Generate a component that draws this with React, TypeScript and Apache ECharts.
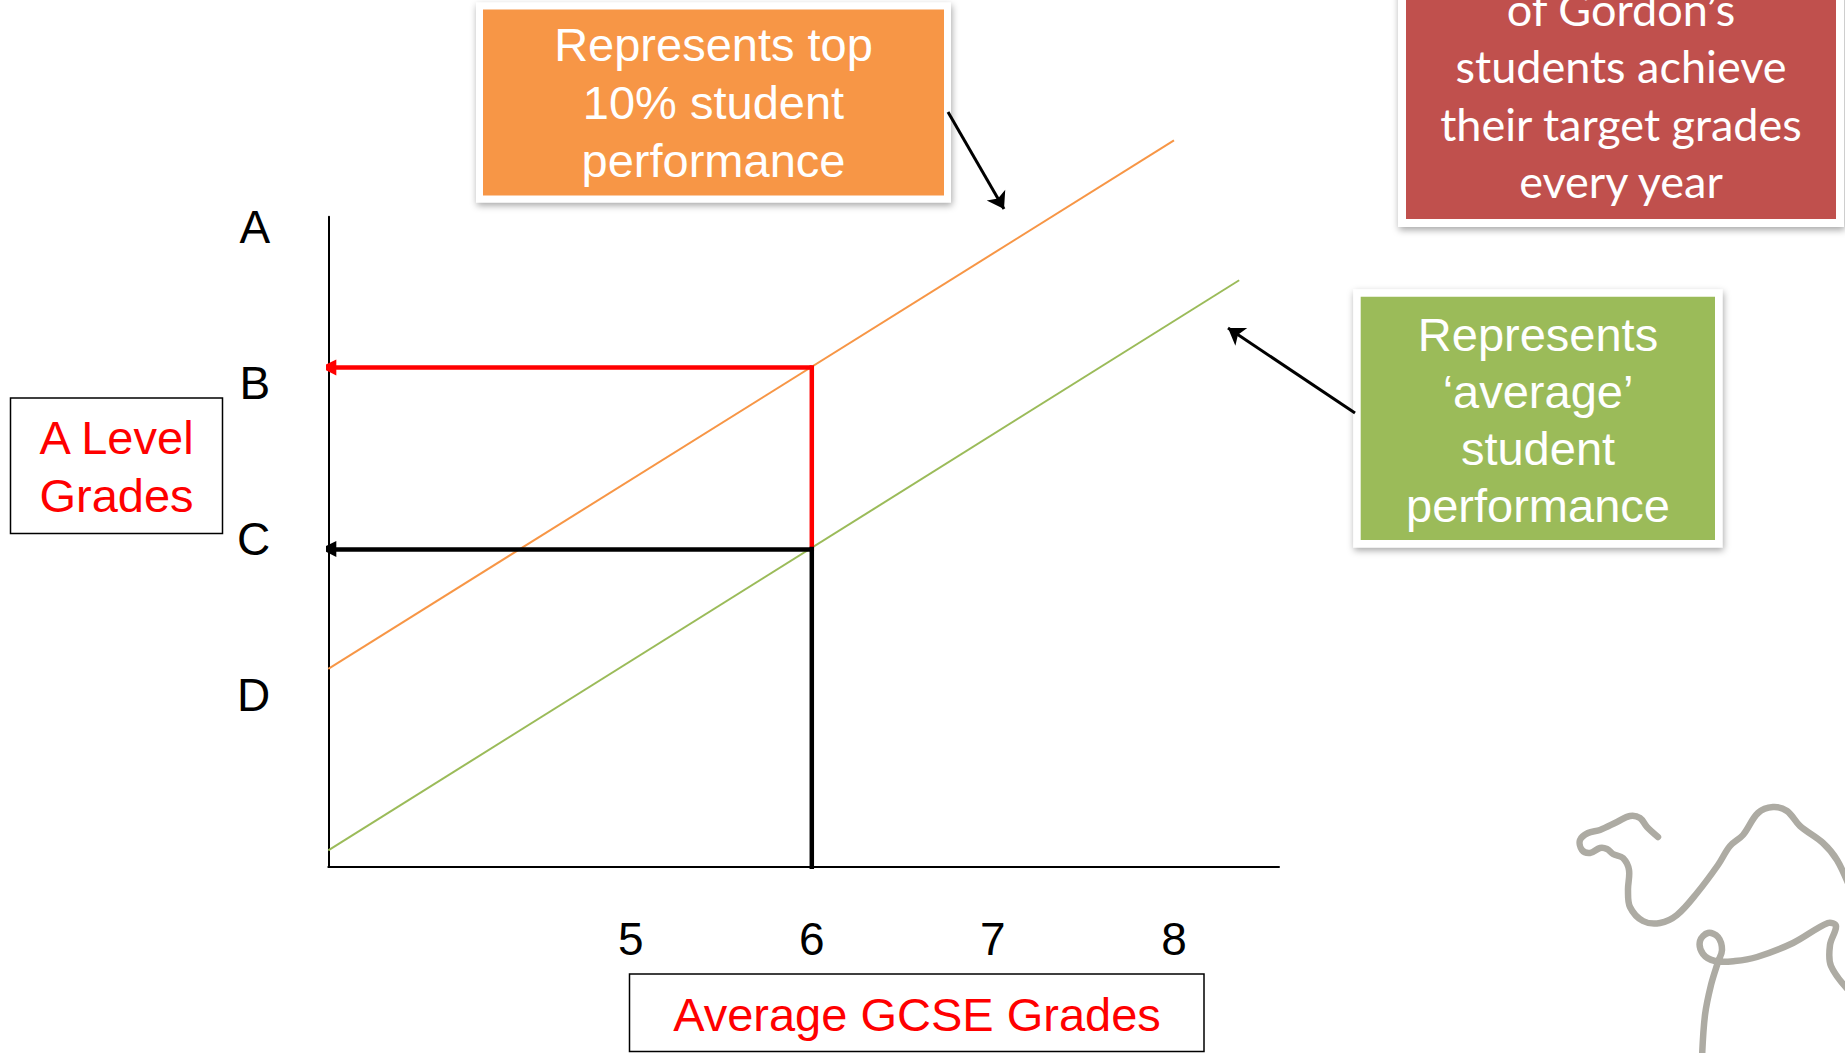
import React, { useEffect, useRef } from 'react';
import * as echarts from 'echarts';

// ---- data ----
const gcseTicks = [5, 6, 7, 8];
const aLevelGrades = ['D', 'C', 'B', 'A'];
const gcseRange = [3.33, 8.58];
const gradeRange = [0.25, 3.83]; // numeric grade scale: D=1, C=2, B=3, A=4
const top10Line = [[3.33, 1.34], [8.0, 4.25]];
const averageLine = [[3.33, 0.34], [8.36, 3.48]];
const studentGcse = 6;
const averageGrade = 2; // C
const top10Grade = 3; // B

const ARIAL = '"Liberation Sans", Arial, sans-serif';
const CALIBRI = 'Lato, "Open Sans", sans-serif';

function box(x: number, y: number, w: number, h: number, fill: string, frame: number) {
  return [
    {
      type: 'rect',
      shape: { x: x - frame, y: y - frame, width: w + 2 * frame, height: h + 2 * frame },
      style: {
        fill: '#ffffff',
        shadowBlur: 7,
        shadowOffsetX: 1,
        shadowOffsetY: 3,
        shadowColor: 'rgba(0,0,0,0.35)',
      },
    },
    { type: 'rect', shape: { x, y, width: w, height: h }, style: { fill } },
  ];
}

function label(text: string, x: number, y: number, font: string, fill: string, lineHeight: number) {
  return {
    type: 'text',
    x,
    y,
    style: {
      text,
      font,
      fill,
      align: 'center',
      verticalAlign: 'middle',
      textAlign: 'center',
      textVerticalAlign: 'middle',
      lineHeight,
    },
  };
}

const camelHeadNeck = [
  [1658, 837], [1647, 827], [1640, 818], [1630, 816], [1617, 822], [1600, 830], [1588, 833],
  [1580, 840], [1582, 850], [1590, 853], [1600, 848], [1607, 849], [1613, 854], [1623, 858],
  [1629, 870], [1628, 890], [1630, 907], [1643, 921], [1660, 923], [1677, 915], [1697, 893],
  [1718, 865], [1730, 846], [1743, 835], [1758, 813], [1773, 807], [1787, 811], [1800, 826],
  [1823, 843], [1837, 860], [1850, 888],
];
const camelLegBelly = [
  [1702, 1058], [1705, 1015], [1711, 985], [1718, 962], [1722, 950], [1718, 937], [1708, 933],
  [1700, 941], [1703, 954], [1715, 961], [1735, 961], [1757, 957], [1793, 943], [1828, 923],
  [1836, 926], [1830, 945], [1831, 966], [1850, 992],
];

export default function App() {
  const ref = useRef<HTMLDivElement>(null);

  useEffect(() => {
    if (!ref.current) return;
    const chart = echarts.init(ref.current, undefined, { renderer: 'svg' });

    const option: any = {
      animation: false,
      backgroundColor: '#ffffff',
      grid: [
        { left: 328.3, top: 216.7, width: 950.7, height: 650 },
        { left: 328.3, top: 226.7, width: 100, height: 468.3 },
      ],
      xAxis: [
        {
          gridIndex: 0,
          type: 'value',
          min: gcseRange[0],
          max: gcseRange[1],
          axisLine: { show: true, onZero: false, lineStyle: { color: '#000000', width: 2 } },
          axisTick: { show: false },
          splitLine: { show: false },
          axisLabel: {
            customValues: gcseTicks,
            color: '#000000',
            fontSize: 46,
            fontFamily: ARIAL,
            margin: 49,
          },
        },
        { gridIndex: 1, type: 'value', show: false },
      ],
      yAxis: [
        {
          gridIndex: 0,
          type: 'value',
          min: gradeRange[0],
          max: gradeRange[1],
          axisLine: { show: true, onZero: false, lineStyle: { color: '#000000', width: 2 } },
          axisTick: { show: false },
          splitLine: { show: false },
          axisLabel: { show: false },
        },
        {
          gridIndex: 1,
          type: 'category',
          data: aLevelGrades,
          boundaryGap: false,
          axisLine: { show: false },
          axisTick: { show: false },
          splitLine: { show: false },
          axisLabel: { color: '#000000', fontSize: 46, fontFamily: ARIAL, margin: 58 },
        },
      ],
      series: [
        {
          type: 'line',
          name: 'Top 10%',
          data: top10Line,
          showSymbol: false,
          symbol: 'none',
          clip: false,
          z: 2,
          lineStyle: { color: '#F79646', width: 2 },
          markLine: {
            silent: true,
            symbol: ['none', 'arrow'],
            symbolSize: 16,
            label: { show: false },
            lineStyle: { color: '#000000', width: 3, type: 'solid' },
            data: [
              [{ x: 948, y: 112 }, { x: 1004, y: 209 }],
              [{ x: 1355, y: 413 }, { x: 1228, y: 328 }],
            ],
          },
        },
        {
          type: 'line',
          name: 'Average',
          data: averageLine,
          showSymbol: false,
          symbol: 'none',
          clip: false,
          z: 2,
          lineStyle: { color: '#9BBB59', width: 2 },
        },
        {
          type: 'line',
          data: [[studentGcse, averageGrade], [studentGcse, top10Grade]],
          showSymbol: false,
          symbol: 'none',
          clip: false,
          z: 4,
          lineStyle: { color: '#FF0000', width: 4.5, cap: 'square' },
        },
        {
          type: 'line',
          data: [[studentGcse, gradeRange[0]], [studentGcse, averageGrade]],
          showSymbol: false,
          symbol: 'none',
          clip: false,
          z: 4,
          lineStyle: { color: '#000000', width: 4.5, cap: 'square' },
        },
        {
          type: 'lines',
          coordinateSystem: 'cartesian2d',
          xAxisIndex: 0,
          yAxisIndex: 0,
          symbol: ['none', 'triangle'],
          symbolSize: 16,
          z: 5,
          lineStyle: { color: '#FF0000', width: 4.5, opacity: 1 },
          data: [{ coords: [[studentGcse, top10Grade], [gcseRange[0], top10Grade]] }],
        },
        {
          type: 'lines',
          coordinateSystem: 'cartesian2d',
          xAxisIndex: 0,
          yAxisIndex: 0,
          symbol: ['none', 'triangle'],
          symbolSize: 16,
          z: 5,
          lineStyle: { color: '#000000', width: 4.5, opacity: 1 },
          data: [{ coords: [[studentGcse, averageGrade], [gcseRange[0], averageGrade]] }],
        },
      ],
      graphic: [
        // orange box
        ...box(483, 9.5, 461, 186, '#F79646', 7),
        label('Represents top\n10% student\nperformance', 713.5, 102.5, `47px ${ARIAL}`, '#ffffff', 57.7),
        // red box
        ...box(1406, -20, 430, 239, '#C0504D', 8),
        label("of Gordon\u2019s\nstudents achieve\ntheir target grades\nevery year", 1621, 95, `45px ${CALIBRI}`, '#ffffff', 57.3),
        // green box
        ...box(1360.7, 296.7, 354.3, 243.3, '#9BBB59', 7.5),
        label('Represents\n\u2018average\u2019\nstudent\nperformance', 1538, 420, `47px ${ARIAL}`, '#ffffff', 57.2),
        // A Level box
        {
          type: 'rect',
          shape: { x: 10.5, y: 398, width: 212, height: 135.5 },
          style: { fill: '#ffffff', stroke: '#000000', lineWidth: 1.5 },
        },
        label('A Level\nGrades', 116.5, 466.5, `47px ${ARIAL}`, '#FF0000', 57.5),
        // GCSE box
        {
          type: 'rect',
          shape: { x: 629.5, y: 974, width: 574.5, height: 77.5 },
          style: { fill: '#ffffff', stroke: '#000000', lineWidth: 1.5 },
        },
        label('Average GCSE Grades', 917, 1014, `47px ${ARIAL}`, '#FF0000', 57),
        // camel logo
        {
          type: 'polyline',
          shape: { points: camelHeadNeck, smooth: 0.35 },
          style: { fill: 'none', stroke: '#ADABA3', lineWidth: 6.5, lineCap: 'round', lineJoin: 'round' },
        },
        {
          type: 'polyline',
          shape: { points: camelLegBelly, smooth: 0.35 },
          style: { fill: 'none', stroke: '#ADABA3', lineWidth: 6.5, lineCap: 'round', lineJoin: 'round' },
        },
      ],
    };

    chart.setOption(option);
    return () => {
      chart.dispose();
    };
  }, []);

  return (
    <div
      ref={ref}
      style={{ position: 'absolute', left: 0, top: 0, width: 1845, height: 1053 }}
    />
  );
}
